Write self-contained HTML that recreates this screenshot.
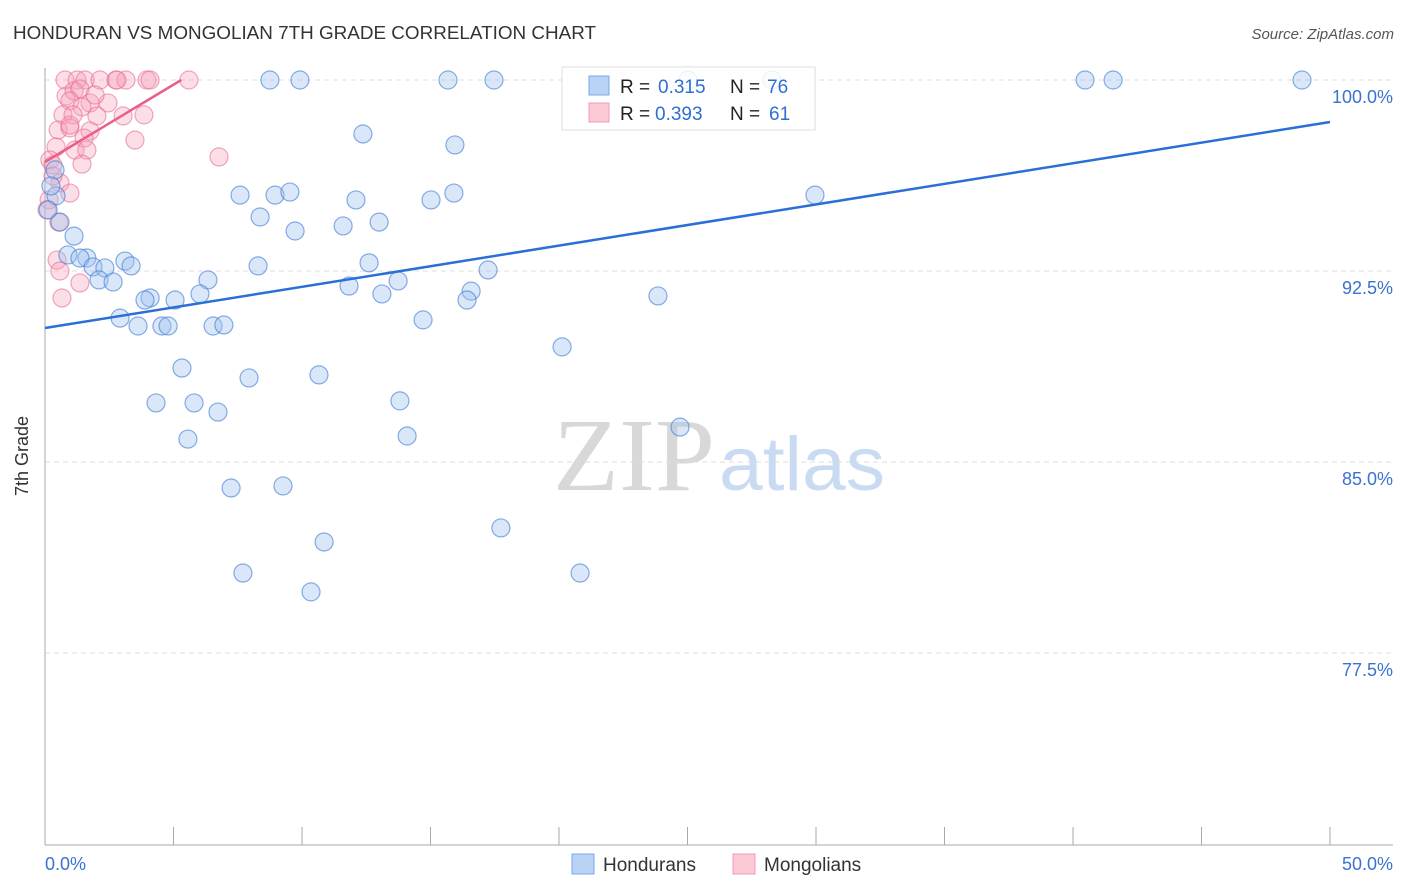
<!DOCTYPE html>
<html><head><meta charset="utf-8"><style>
body{margin:0;background:#fff;font-family:"Liberation Sans",sans-serif;}
svg{display:block}
</style></head><body>
<svg id="chart" width="1406" height="892" xmlns="http://www.w3.org/2000/svg">
<text x="13" y="39" font-size="18" fill="#333" textLength="583" lengthAdjust="spacingAndGlyphs">HONDURAN VS MONGOLIAN 7TH GRADE CORRELATION CHART</text>
<text x="1394" y="39" font-size="15" fill="#555" font-style="italic" text-anchor="end">Source: ZipAtlas.com</text>
<g>
<text x="634" y="490" font-size="104" fill="#d8d8d8" font-family="Liberation Serif,serif" text-anchor="middle" textLength="162" lengthAdjust="spacingAndGlyphs">ZIP</text>
<text x="802" y="490" font-size="76" fill="#c9dbf3" text-anchor="middle" textLength="166" lengthAdjust="spacingAndGlyphs">atlas</text>
</g>
<g id="grid"></g>
<g id="axes"></g>
<g id="pts"></g>
<g id="lines"></g>
<text x="28" y="456" font-size="18" fill="#333" transform="rotate(-90 28 456)" text-anchor="middle">7th Grade</text>
<g>
<rect x="562" y="67" width="253" height="63" fill="rgba(255,255,255,0.85)" stroke="#ddd"/>
<rect x="589" y="76" width="20" height="19" fill="#b8d3f5" stroke="#7aa8e6"/>
<rect x="589" y="103" width="20" height="19" fill="#fcc9d6" stroke="#f09ab2"/>
<text x="620" y="93" font-size="19" fill="#222">R = </text><text x="658" y="93" font-size="19" fill="#2f6fd0">0.315</text>
<text x="730" y="93" font-size="19" fill="#222">N = </text><text x="767" y="93" font-size="19" fill="#2f6fd0">76</text>
<text x="620" y="120" font-size="19" fill="#222">R = </text><text x="655" y="120" font-size="19" fill="#2f6fd0">0.393</text>
<text x="730" y="120" font-size="19" fill="#222">N = </text><text x="769" y="120" font-size="19" fill="#2f6fd0">61</text>
</g>
<g>
<rect x="572" y="854" width="22" height="20" fill="#b8d3f5" stroke="#7aa8e6"/>
<text x="603" y="871" font-size="19" fill="#333">Hondurans</text>
<rect x="733" y="854" width="22" height="20" fill="#fcc9d6" stroke="#f09ab2"/>
<text x="764" y="871" font-size="19" fill="#333">Mongolians</text>
</g>
</svg>
<script>
const yTicks=[100,92.5,85,77.5];
const yTickLabels=["100.0%","92.5%","85.0%","77.5%"];
const xEndLabels=["0.0%","50.0%"];
const blueX=[8.75,9.92,15.68,17.47,25.02,28.29,40.47,41.56,48.91,12.37,15.95,7.59,8.95,9.53,12.1,15.02,15.91,29.96,8.37,13.0,9.73,11.6,0.58,1.13,0.43,0.39,0.89,1.63,1.36,1.87,2.33,3.11,3.35,2.1,2.65,6.34,8.29,12.61,17.24,11.83,13.11,13.74,16.58,16.42,6.03,4.09,3.89,5.06,2.92,3.62,4.55,4.79,6.54,6.96,14.71,23.85,20.12,5.33,7.94,10.66,4.32,5.8,6.73,13.81,5.56,14.09,24.71,7.24,9.26,17.74,10.86,7.7,20.82,10.35,0.23,0.12];
const blueY=[100,100,100,100,100,100,100,100,100,97.88,97.45,95.48,95.48,95.6,95.29,95.29,95.56,95.48,94.62,94.42,94.07,94.27,94.42,93.87,95.45,96.47,93.13,93.01,93.01,92.66,92.62,92.89,92.7,92.15,92.07,92.15,92.7,92.82,92.54,91.91,91.6,92.11,91.71,91.36,91.6,91.44,91.36,91.36,90.65,90.34,90.34,90.34,90.34,90.38,90.58,91.52,89.52,88.69,88.3,88.42,87.32,87.32,86.96,87.4,85.9,86.02,86.37,83.98,84.06,82.41,81.86,80.64,80.64,79.9,95.84,94.9];
const pinkX=[0.78,1.25,1.56,2.14,2.76,3.15,3.97,4.09,5.6,2.8,0.82,1.13,1.36,0.97,1.75,2.45,1.44,0.7,1.09,2.02,3.04,3.85,0.51,0.97,1.75,1.52,3.5,0.43,1.17,1.63,6.77,0.19,0.31,1.44,0.58,0.97,0.31,0.16,0.08,0.54,0.47,0.58,1.36,0.66,0.97,1.95];
const pinkY=[100,100,100,100,100,100,100,100,100,100,99.37,99.57,99.65,99.18,99.1,99.1,98.94,98.63,98.63,98.59,98.59,98.63,98.04,98.12,98.0,97.72,97.64,97.37,97.25,97.25,96.98,96.86,96.66,96.7,95.96,95.56,96.23,95.29,94.9,94.42,92.93,92.5,92.03,91.44,98.23,99.41];
const blueTrend=[[0,90.26],[50,98.35]];
const pinkTrend=[[0,96.78],[5.3,100]];
const NS="http://www.w3.org/2000/svg";
const X0=45,X1=1330,Y100=80,PX_PER=191/7.5;
function sx(v){return X0+(v/50)*(X1-X0);}
function sy(v){return Y100+(100-v)*PX_PER;}
function mk(t,a,p){const e=document.createElementNS(NS,t);for(const k in a)e.setAttribute(k,a[k]);p.appendChild(e);return e;}
const grid=document.getElementById('grid'),axes=document.getElementById('axes'),pts=document.getElementById('pts'),lines=document.getElementById('lines');
yTicks.forEach((t,i)=>{
 const l=mk('line',{x1:X0,x2:1393,y1:sy(t),y2:sy(t),stroke:'#ddd','stroke-dasharray':'5,4'},grid);
 
 
 const tx=mk('text',{x:1393,y:sy(t)+23,'font-size':18,fill:'#3a72d0','text-anchor':'end'},axes);
 tx.textContent=yTickLabels[i];
 
 
});
const ya=mk('line',{x1:X0,x2:X0,y1:68,y2:845,stroke:'#aaa'},axes);


const xa=mk('line',{x1:X0,x2:1393,y1:845,y2:845,stroke:'#aaa'},axes);


for(let v=0;v<=50;v+=5){
 const tk=mk('line',{x1:sx(v),x2:sx(v),y1:827,y2:845,stroke:'#aaa'},axes);
 
 
}
const xl0=mk('text',{x:45,y:870,'font-size':18,fill:'#3a72d0'},axes);xl0.textContent=xEndLabels[0];


const xl1=mk('text',{x:1393,y:870,'font-size':18,fill:'#3a72d0','text-anchor':'end'},axes);xl1.textContent=xEndLabels[1];


pinkX.forEach((v,i)=>{
 const c=mk('circle',{cx:sx(v),cy:sy(pinkY[i]),r:9,fill:'rgba(247,160,185,0.35)',stroke:'rgba(232,110,145,0.6)','stroke-width':1.2},pts);
 
 
});
blueX.forEach((v,i)=>{
 const c=mk('circle',{cx:sx(v),cy:sy(blueY[i]),r:9,fill:'rgba(160,195,240,0.4)',stroke:'rgba(60,120,210,0.6)','stroke-width':1.2},pts);
 
 
});
const bl=mk('line',{x1:sx(blueTrend[0][0]),y1:sy(blueTrend[0][1]),x2:sx(blueTrend[1][0]),y2:sy(blueTrend[1][1]),stroke:'#2a6fd6','stroke-width':2.5},lines);


const pl=mk('line',{x1:sx(pinkTrend[0][0]),y1:sy(pinkTrend[0][1]),x2:sx(pinkTrend[1][0]),y2:sy(pinkTrend[1][1]),stroke:'#e8608a','stroke-width':2.5},lines);


</script>
</body></html>
